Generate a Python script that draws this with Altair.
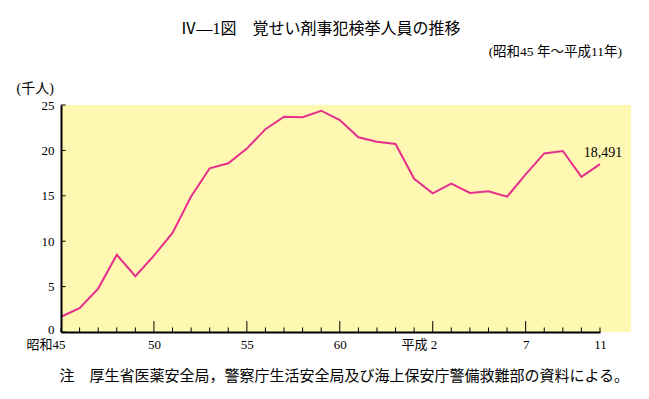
import altair as alt
import pandas as pd

# ---- data ----
year_index = list(range(30))  # 昭和45 (1970) ... 平成11 (1999)
arrests_thousand = [1.68, 2.63, 4.78, 8.51, 6.14, 8.42, 10.92, 14.93, 18.03, 18.58,
                    20.20, 22.34, 23.71, 23.66, 24.37, 23.34, 21.45, 20.95, 20.71, 16.87,
                    15.27, 16.33, 15.31, 15.50, 14.90, 17.36, 19.67, 19.94, 17.08, 18.491]
label_positions = [0, 5, 10, 15, 20, 25, 29]
label_texts = ["昭和45", "50", "55", "60", "平成 2", "7", "11"]
y_tick_values = [0, 5, 10, 15, 20, 25]
last_value_label = "18,491"

title_text = "Ⅳ—1図　覚せい剤事犯検挙人員の推移"
subtitle_text = "(昭和45 年～平成11年)"
unit_text = "(千人)"
note_text = "注　厚生省医薬安全局，警察庁生活安全局及び海上保安庁警備救難部の資料による。"

# ---- style ----
FONT = "'Liberation Serif', 'Noto Sans CJK JP', serif"
LINE_COLOR = "#e62e8c"
BG_COLOR = "#fff8b2"
BG_RIGHT = 30.67   # background panel extends past the last year
Y_TOP = 25

xs = alt.Scale(domain=[0, 29], nice=False, zero=False)
ys = alt.Scale(domain=[0, Y_TOP], nice=False)

label_expr = ""
for p, t in zip(label_positions, label_texts):
    label_expr += f"datum.value == {p} ? '{t}' : "
label_expr += "''"

xaxis = alt.Axis(
    values=label_positions, labelExpr=label_expr, grid=False,
    domain=True, domainColor="black", domainWidth=2, ticks=False, tickSize=0,
    labelPadding=6, labelFont=FONT, labelFontSize=13, labelColor="black",
    labelBaseline="top",
    labelAlign={"condition": {"test": "datum.value == 0 || datum.value == 20", "value": "right"}, "value": "center"},
    labelOffset={"condition": {"test": "datum.value == 0 || datum.value == 20", "value": 4}, "value": 0},
    title=note_text, titleFont=FONT, titleFontSize=15, titleFontWeight="normal",
    titleColor="black", titleAnchor="start", titleAlign="left", titleX=-2, titleY=43,
    titleBaseline="middle", zindex=1,
)
yaxis = alt.Axis(
    values=y_tick_values, grid=False, domain=True, domainColor="black", domainWidth=2,
    ticks=False, tickSize=0, labelPadding=7, labelFont=FONT, labelFontSize=13,
    labelColor="black",
    labelOffset={"condition": {"test": "datum.value == 0", "value": -3}, "value": 0},
    title=unit_text, titleFont=FONT, titleFontSize=14, titleFontWeight="normal",
    titleColor="black", titleAngle=0, titleX=-45, titleY=-17, titleAlign="left",
    titleBaseline="middle", zindex=1,
)

def X(field="x"):
    return alt.X(f"{field}:Q", scale=xs, axis=xaxis)

def Y(field="y"):
    return alt.Y(f"{field}:Q", scale=ys, axis=yaxis)

bg_df = pd.DataFrame({"x": [0], "x2": [BG_RIGHT], "y": [0], "y2": [Y_TOP]})
bg = alt.Chart(bg_df).mark_rect(color=BG_COLOR).encode(x=X(), x2="x2:Q", y=Y(), y2="y2:Q")

# inward ticks on x axis (longer every 5 years)
xt_df = pd.DataFrame({"x": year_index})
xt_df["y"] = 0.0
xt_df["y2"] = [1.2 if (i % 5 == 0 and 0 < i < 29) else 0.5 for i in year_index]
xticks = alt.Chart(xt_df).mark_rule(color="black", strokeWidth=1).encode(x=X(), y=Y(), y2="y2:Q")

# inward ticks on y axis
yt_df = pd.DataFrame({"y": y_tick_values})
yt_df["x"] = 0.0
yt_df["x2"] = 0.25
yticks = alt.Chart(yt_df).mark_rule(color="black", strokeWidth=1).encode(y=Y(), x=X(), x2="x2:Q")

line_df = pd.DataFrame({"x": year_index, "y": arrests_thousand})
line = alt.Chart(line_df).mark_line(color=LINE_COLOR, strokeWidth=2).encode(x=X(), y=Y())

lab_df = pd.DataFrame({"x": [year_index[-1]], "y": [arrests_thousand[-1]], "t": [last_value_label]})
lab = alt.Chart(lab_df).mark_text(font=FONT, fontSize=14, color="black", dx=3, dy=-11,
                                  align="center", baseline="middle").encode(x=X(), y=Y(), text="t:N")

sub_df = pd.DataFrame({"t": [subtitle_text]})
sub = alt.Chart(sub_df).mark_text(font=FONT, fontSize=13.5, color="black", align="right",
                                  baseline="middle").encode(x=alt.value(561), y=alt.value(-53), text="t:N")

chart = alt.layer(bg, xticks, yticks, line, lab, sub).properties(
    width=539, height=227,
    autosize=alt.AutoSizeParams(type="none"),
    padding={"left": 53, "top": 97, "right": 41, "bottom": 59},
    title=alt.TitleParams(text=title_text, font=FONT, fontSize=16, fontWeight="normal",
                          color="black", anchor="middle", frame="group", dx=-10, dy=16,
                          offset=8, baseline="bottom"),
).configure_view(stroke=None).configure(background="white")

chart.save("out.html", embed_options={"renderer": "svg", "actions": False})
